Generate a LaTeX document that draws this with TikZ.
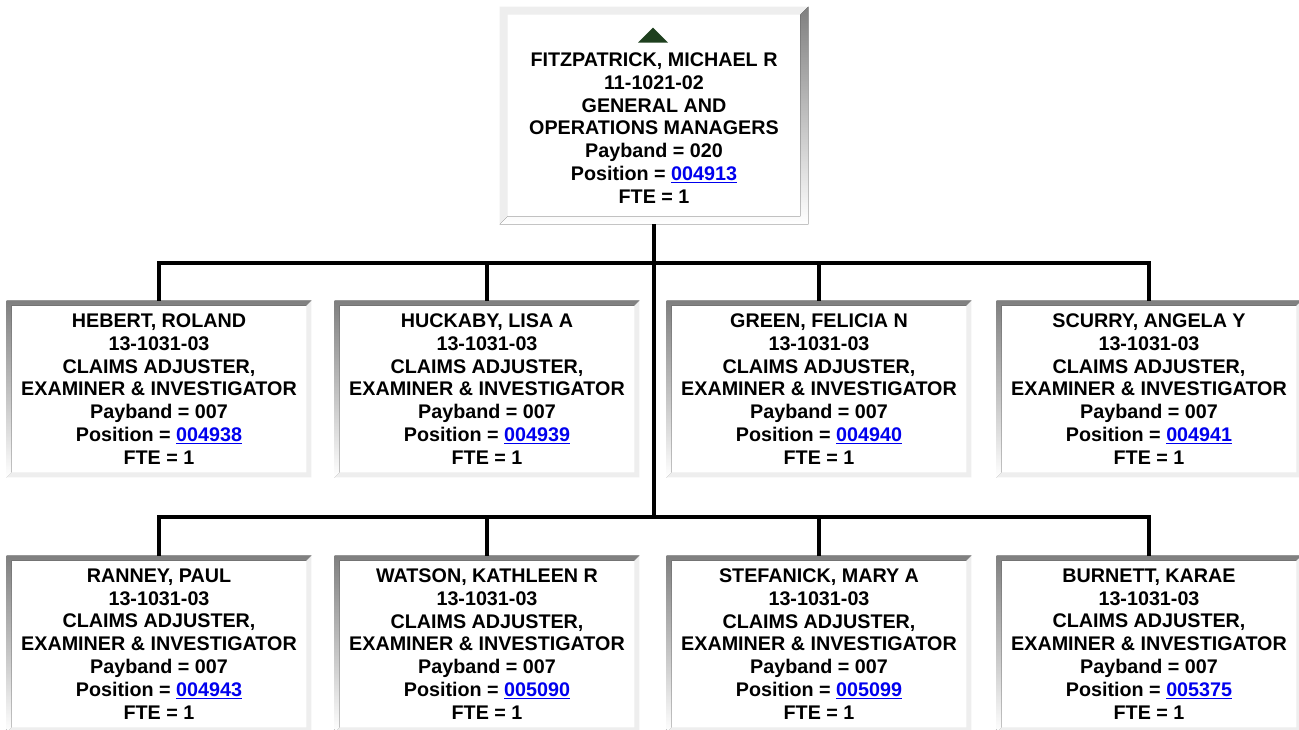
\documentclass[tikz,border=0pt]{standalone}
\usepackage{fontspec}
\setmainfont{Liberation Sans}
\usepackage{tikz}
\usetikzlibrary{positioning,calc}
\definecolor{ink}     {HTML}{000000}
\definecolor{linkblue}{HTML}{0000EE}
\definecolor{shade}   {HTML}{A0A0A0}
\definecolor{glint}   {HTML}{EEEEEE}
\definecolor{caret}   {HTML}{1E3F1E}
\newcommand\poslink[1]{\textcolor{linkblue}{\underline{#1}}}
% bevelled edge: node, width, top-left colour, bottom-right colour
\newcommand\bevel[4]{%
  \fill[#3] (#1.south west) -- (#1.north west) -- (#1.north east)
    -- ([shift={(-#2,#2)}]#1.north east) -- ([shift={(#2,#2)}]#1.north west)
    -- ([shift={(#2,-#2)}]#1.south west) -- cycle;
  \fill[#4] (#1.south west) -- (#1.south east) -- (#1.north east)
    -- ([shift={(-#2,#2)}]#1.north east) -- ([shift={(-#2,-#2)}]#1.south east)
    -- ([shift={(#2,-#2)}]#1.south west) -- cycle;
}
\tikzset{
  >=stealth,
  card/.style = {fill=white, minimum width=228pt, minimum height=132pt, inner sep=0pt,
                 align=center, font=\bfseries\fontsize{14.8}{17.1}\selectfont},
  boss/.style = {card, minimum width=231pt, minimum height=162.75pt},
  wire/.style = {line width=3pt, draw=ink},
}
\begin{document}
\begin{tikzpicture}[x=0.75pt,y=-0.75pt]
  \fill[white] (0,0) rectangle (1299,730);
  \useasboundingbox (0,0) rectangle (1299,730);
  \coordinate (bus1) at (654,263);
  \coordinate (bus2) at (654,517);
  % --- boxes
  \node[boss] (top) at (654,115.5) {\strut\\FITZPATRICK, MICHAEL R\\11-1021-02\\GENERAL AND\\OPERATIONS MANAGERS\\Payband = 020\\Position = \poslink{004913}\\FTE = 1};
  \node[card] (r1a) at (159,389) {HEBERT, ROLAND\\13-1031-03\\CLAIMS ADJUSTER,\\EXAMINER \& INVESTIGATOR\\Payband = 007\\Position = \poslink{004938}\\FTE = 1};
  \node[card] (r1b) at (487,389) {HUCKABY, LISA A\\13-1031-03\\CLAIMS ADJUSTER,\\EXAMINER \& INVESTIGATOR\\Payband = 007\\Position = \poslink{004939}\\FTE = 1};
  \node[card] (r1c) at (819,389) {GREEN, FELICIA N\\13-1031-03\\CLAIMS ADJUSTER,\\EXAMINER \& INVESTIGATOR\\Payband = 007\\Position = \poslink{004940}\\FTE = 1};
  \node[card] (r1d) at (1149,389) {SCURRY, ANGELA Y\\13-1031-03\\CLAIMS ADJUSTER,\\EXAMINER \& INVESTIGATOR\\Payband = 007\\Position = \poslink{004941}\\FTE = 1};
  \node[card] (r2a) at (159,644) {RANNEY, PAUL\\13-1031-03\\CLAIMS ADJUSTER,\\EXAMINER \& INVESTIGATOR\\Payband = 007\\Position = \poslink{004943}\\FTE = 1};
  \node[card] (r2b) at (487,644) {WATSON, KATHLEEN R\\13-1031-03\\CLAIMS ADJUSTER,\\EXAMINER \& INVESTIGATOR\\Payband = 007\\Position = \poslink{005090}\\FTE = 1};
  \node[card] (r2c) at (819,644) {STEFANICK, MARY A\\13-1031-03\\CLAIMS ADJUSTER,\\EXAMINER \& INVESTIGATOR\\Payband = 007\\Position = \poslink{005099}\\FTE = 1};
  \node[card] (r2d) at (1149,644) {BURNETT, KARAE\\13-1031-03\\CLAIMS ADJUSTER,\\EXAMINER \& INVESTIGATOR\\Payband = 007\\Position = \poslink{005375}\\FTE = 1};
  % --- edges
  \bevel{top}{8}{glint}{shade}
  \foreach \n in {r1a,r1b,r1c,r1d,r2a,r2b,r2c,r2d}
    \bevel{\n}{5}{shade}{glint};
  \fill[caret] ([shift={(-1,21)}]top.north) -- ([shift={(-16,36)}]top.north)
    -- ([shift={(14,36)}]top.north) -- cycle;
  % --- wires
  \draw[wire] (top.south) -- (bus2);
  \draw[wire] (r1a.north) -- (r1a.north |- bus1) -- (r1d.north |- bus1) -- (r1d.north);
  \draw[wire] (r2a.north) -- (r2a.north |- bus2) -- (r2d.north |- bus2) -- (r2d.north);
  \foreach \n in {r1b,r1c}
    \draw[wire] (\n.north) -- (\n.north |- bus1);
  \foreach \n in {r2b,r2c}
    \draw[wire] (\n.north) -- (\n.north |- bus2);
\end{tikzpicture}
\end{document}
